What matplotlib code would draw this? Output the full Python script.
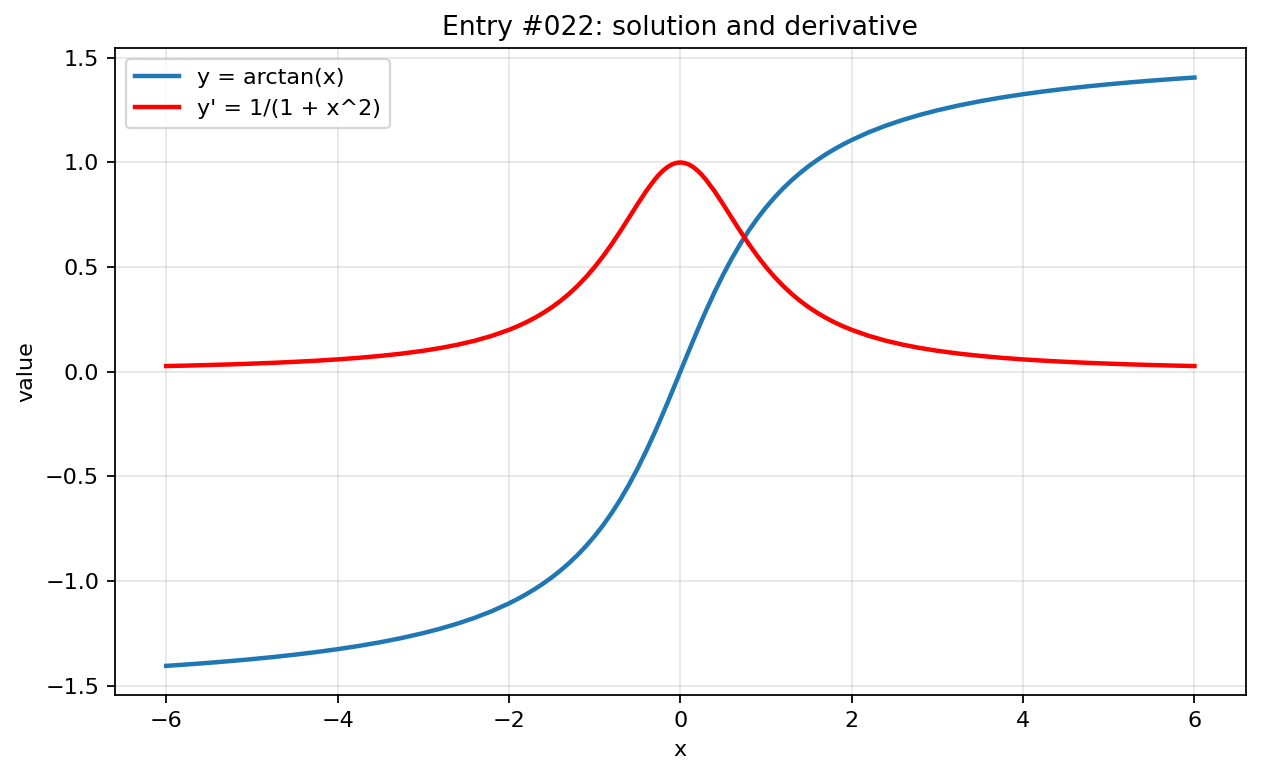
import matplotlib
matplotlib.use("Agg")
import numpy as np
from matplotlib import pyplot as plt

# values (positive half; curves are symmetric about x = 0)
x_pos = [0.0, 0.05, 0.1, 0.15, 0.2, 0.25, 0.3, 0.4, 0.5, 0.6, 0.7, 0.8, 0.9,
         1.0, 1.1, 1.2, 1.3, 1.4, 1.5, 1.6, 1.7, 1.8, 1.9, 2.0, 2.2, 2.4, 2.6,
         2.8, 3.0, 3.25, 3.5, 3.75, 4.0, 4.25, 4.5, 4.75, 5.0, 5.25, 5.5, 5.75, 6.0]
y_pos = [0.0, 0.0500, 0.0997, 0.1489, 0.1974, 0.2450, 0.2915, 0.3805, 0.4636,
         0.5404, 0.6107, 0.6747, 0.7328, 0.7854, 0.8330, 0.8761, 0.9151, 0.9505,
         0.9828, 1.0122, 1.0391, 1.0637, 1.0863, 1.1071, 1.1442, 1.1760, 1.2036,
         1.2278, 1.2490, 1.2723, 1.2925, 1.3102, 1.3258, 1.3397, 1.3521, 1.3633,
         1.3734, 1.3826, 1.3909, 1.3986, 1.4056]
dy_pos = [1.0, 0.9975, 0.9901, 0.9780, 0.9615, 0.9412, 0.9174, 0.8621, 0.8000,
          0.7353, 0.6711, 0.6098, 0.5525, 0.5000, 0.4525, 0.4098, 0.3717, 0.3378,
          0.3077, 0.2809, 0.2571, 0.2358, 0.2169, 0.2000, 0.1712, 0.1479, 0.1289,
          0.1131, 0.1000, 0.0865, 0.0755, 0.0664, 0.0588, 0.0525, 0.0471, 0.0425,
          0.0385, 0.0350, 0.0320, 0.0293, 0.0270]

x = np.concatenate([-np.array(x_pos[:0:-1]), x_pos])
y = np.concatenate([-np.array(y_pos[:0:-1]), y_pos])
dy = np.concatenate([np.array(dy_pos[:0:-1]), dy_pos])

fig, ax = plt.subplots(figsize=(1261 / 160, 776 / 160), dpi=160)
fig.subplots_adjust(left=0.091, right=0.988, top=0.938, bottom=0.104)

ax.plot(x, y, color='tab:blue', lw=2, label='y = arctan(x)')
ax.plot(x, dy, color='red', lw=2, label="y' = 1/(1 + x^2)")

ax.set_title('Entry #022: solution and derivative')
ax.set_xlabel('x')
ax.set_ylabel('value')
ax.grid(True, alpha=0.3)
ax.legend(loc='upper left')

fig.savefig('out.png', dpi=160)
